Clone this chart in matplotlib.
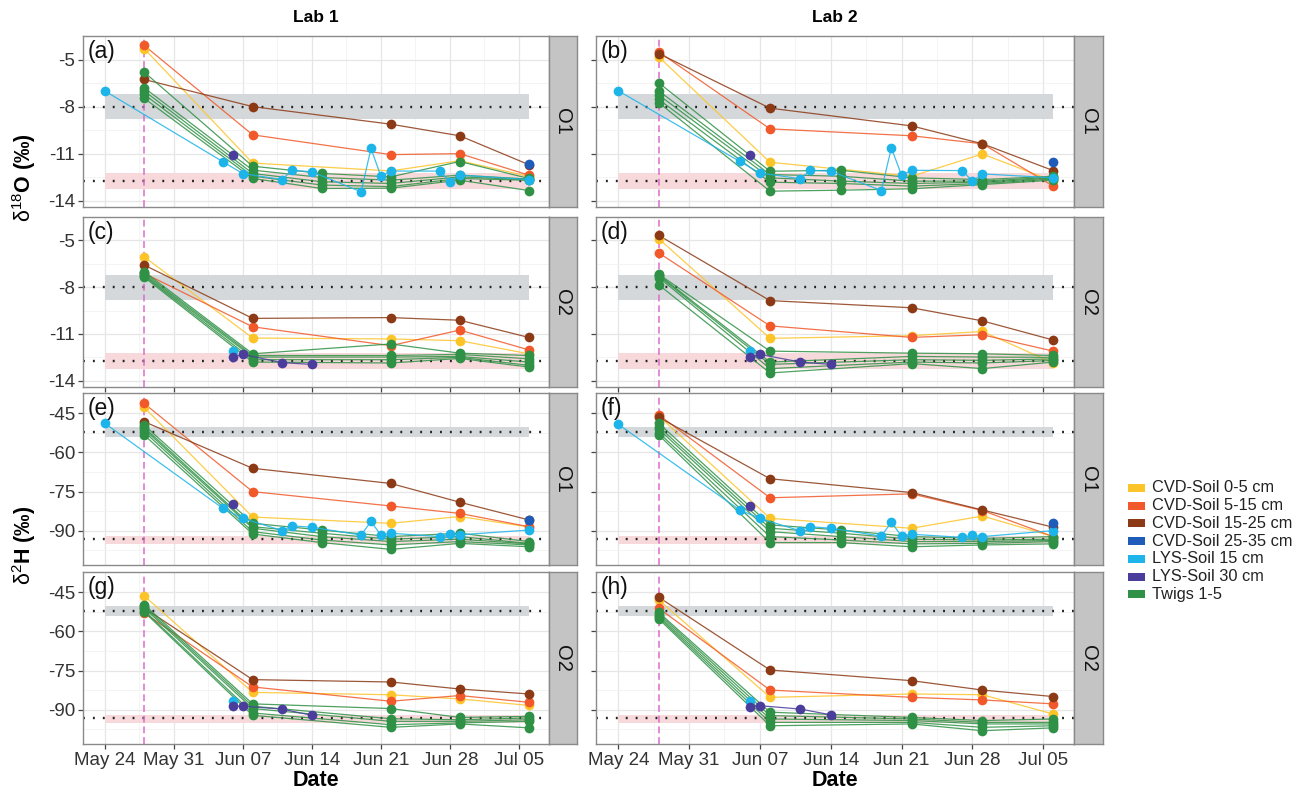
import matplotlib
matplotlib.use("Agg")
import matplotlib.pyplot as plt
import matplotlib.dates as mdates
from matplotlib.patches import Rectangle
from datetime import datetime, timedelta

plt.rcParams['font.family'] = ['Liberation Sans', 'DejaVu Sans']
plt.rcParams['axes.unicode_minus'] = False
plt.rcParams['mathtext.fontset'] = 'custom'
plt.rcParams['mathtext.rm'] = 'Liberation Sans'
plt.rcParams['mathtext.it'] = 'Liberation Sans'
plt.rcParams['mathtext.bf'] = 'Liberation Sans:bold'


def d(m, day):
    return datetime(2021, m, day)


# ---------------- dates ----------------
D_MAIN = [d(5, 28), d(6, 8), d(6, 22), d(6, 29), d(7, 6)]
D_TWIG_O1 = [d(5, 28), d(6, 8), d(6, 15), d(6, 22), d(6, 29), d(7, 6)]
D_TWIG_O2 = [d(5, 28), d(6, 8), d(6, 22), d(6, 29), d(7, 6)]
D_LYS15_O1 = [d(5, 24), d(6, 5), d(6, 7), d(6, 11), d(6, 12), d(6, 14), d(6, 19),
              d(6, 20), d(6, 21), d(6, 22), d(6, 27), d(6, 28), d(6, 29), d(7, 6)]
D_LYS30_O1 = [d(6, 6)]
D_LYS15_O2 = [d(6, 6)]
D_LYS30_O2 = [d(6, 6), d(6, 7), d(6, 11), d(6, 14)]
D_CVD2535 = [d(7, 6)]
TRACER_DATE = d(5, 28)

series_names = ["CVD-Soil 0-5 cm", "CVD-Soil 5-15 cm", "CVD-Soil 15-25 cm",
                "CVD-Soil 25-35 cm", "LYS-Soil 15 cm", "LYS-Soil 30 cm", "Twigs 1-5"]
series_colors = ["#FDC42A", "#F1592A", "#8C3A16", "#1F5BB8", "#1DB4E9", "#4B3D9C", "#2F9145"]

# ---------------- (a) Lab 1, O1, d18O ----------------
a_cvd05 = [-4.3, -11.6, -12.1, -11.45, -12.45]
a_cvd515 = [-4.1, -9.8, -11.06, -11.0, -12.37]
a_cvd1525 = [-6.27, -8.0, -9.12, -9.86, -11.7]
a_cvd2535 = [-11.63]
a_lys15 = [-7.0, -11.52, -12.27, -12.65, -12.05, -12.16, -13.43, -10.67, -12.43,
           -12.11, -12.11, -12.79, -12.37, -12.65]
a_lys30 = [-11.06]
a_twigs = [[-5.8, -11.8, -12.26, -12.48, -11.5, -12.58],
           [-6.8, -12.05, -12.52, -12.69, -12.37, -12.62],
           [-7.0, -12.26, -12.79, -12.9, -12.48, -12.66],
           [-7.22, -12.43, -13.0, -13.1, -12.58, -12.7],
           [-7.47, -12.58, -13.22, -13.2, -12.69, -13.35]]

# ---------------- (b) Lab 2, O1, d18O ----------------
b_cvd05 = [-4.83, -11.55, -12.44, -11.02, -12.75]
b_cvd515 = [-4.51, -9.42, -9.86, -10.37, -13.07]
b_cvd1525 = [-4.62, -8.1, -9.23, -10.37, -12.08]
b_cvd2535 = [-11.55]
b_lys15 = [-6.99, -11.49, -12.23, -12.6, -12.06, -12.12, -13.35, -10.64, -12.37,
           -12.06, -12.08, -12.75, -12.29, -12.54]
b_lys30 = [-11.06]
b_twigs = [[-6.48, -12.12, -12.06, -12.54, -12.65, -12.44],
           [-7.0, -12.33, -12.44, -12.75, -12.75, -12.5],
           [-7.26, -12.54, -12.75, -12.9, -12.82, -12.56],
           [-7.54, -12.82, -12.9, -13.07, -12.9, -12.62],
           [-7.75, -13.39, -13.33, -13.24, -12.97, -12.69]]

# ---------------- (c) Lab 1, O2, d18O ----------------
c_cvd05 = [-6.05, -11.26, -11.32, -11.43, -12.27]
c_cvd515 = [-7.11, -10.54, -11.75, -10.75, -12.02]
c_cvd1525 = [-6.58, -10.0, -9.95, -10.12, -11.22]
c_lys15 = [-12.06]
c_lys30 = [-12.48, -12.31, -12.84, -12.95]
c_twigs = [[-7.0, -12.27, -11.64, -12.23, -12.38],
           [-7.11, -12.38, -12.38, -12.31, -12.59],
           [-7.21, -12.48, -12.48, -12.44, -12.8],
           [-7.28, -12.65, -12.65, -12.5, -13.01],
           [-7.36, -12.8, -12.86, -12.57, -13.12]]

# ---------------- (d) Lab 2, O2, d18O ----------------
d_cvd05 = [-4.89, -11.28, -11.11, -10.84, -12.86]
d_cvd515 = [-5.8, -10.48, -11.22, -11.05, -12.1]
d_cvd1525 = [-4.68, -8.86, -9.32, -10.16, -11.39]
d_lys15 = [-12.06]
d_lys30 = [-12.48, -12.31, -12.8, -12.95]
d_twigs = [[-7.17, -12.1, -12.23, -12.27, -12.38],
           [-7.21, -12.8, -12.44, -12.48, -12.5],
           [-7.28, -12.95, -12.65, -12.69, -12.6],
           [-7.38, -13.22, -12.8, -12.86, -12.7],
           [-7.85, -13.5, -12.9, -13.22, -12.8]]

# ---------------- (e) Lab 1, O1, d2H ----------------
e_cvd05 = [-42.7, -84.8, -87.2, -84.6, -88.6]
e_cvd515 = [-41.2, -75.05, -80.55, -83.4, -88.5]
e_cvd1525 = [-48.2, -66.1, -71.9, -79.1, -85.9]
e_cvd2535 = [-85.9]
e_lys15 = [-48.8, -81.5, -85.3, -90.0, -88.2, -88.7, -91.7, -86.5, -91.7, -91.0,
           -92.3, -91.4, -91.6, -89.8]
e_lys30 = [-79.8]
e_twigs = [[-49.5, -87.2, -89.8, -92.3, -91.0, -94.2],
           [-50.4, -88.5, -91.0, -93.3, -92.3, -94.9],
           [-51.1, -89.1, -92.3, -94.2, -93.3, -95.1],
           [-52.0, -90.4, -93.6, -95.5, -94.2, -95.5],
           [-53.3, -91.3, -94.6, -97.2, -94.9, -96.2]]

# ---------------- (f) Lab 2, O1, d2H ----------------
f_cvd05 = [-46.0, -85.3, -89.1, -84.4, -92.3]
f_cvd515 = [-45.6, -77.4, -75.9, -82.3, -92.3]
f_cvd1525 = [-46.5, -70.1, -75.4, -82.1, -88.7]
f_cvd2535 = [-87.2]
f_lys15 = [-49.2, -82.1, -85.3, -90.1, -88.5, -89.1, -92.1, -86.8, -92.1, -91.4,
           -92.6, -91.8, -92.3, -90.0]
f_lys30 = [-80.4]
f_twigs = [[-48.8, -87.8, -89.8, -92.3, -93.0, -92.3],
           [-50.1, -89.1, -91.0, -93.3, -93.6, -93.3],
           [-51.1, -90.4, -92.3, -94.2, -94.2, -93.8],
           [-52.4, -92.3, -93.6, -95.1, -94.9, -94.2],
           [-53.3, -94.6, -94.6, -96.2, -95.5, -95.1]]

# ---------------- (g) Lab 1, O2, d2H ----------------
g_cvd05 = [-46.3, -83.4, -84.3, -85.9, -88.4]
g_cvd515 = [-52.9, -81.3, -86.8, -84.6, -87.2]
g_cvd1525 = [-51.0, -78.5, -79.4, -82.1, -84.0]
g_lys15 = [-86.8]
g_lys30 = [-88.7, -88.7, -89.8, -92.2]
g_twigs = [[-49.7, -87.8, -89.6, -93.0, -92.6],
           [-50.4, -88.7, -93.5, -93.9, -93.2],
           [-51.0, -89.6, -94.5, -94.5, -93.9],
           [-52.0, -91.3, -95.8, -95.1, -94.5],
           [-52.5, -92.2, -96.8, -95.5, -97.0]]

# ---------------- (h) Lab 2, O2, d2H ----------------
h_cvd05 = [-47.9, -85.3, -84.0, -84.3, -91.7]
h_cvd515 = [-51.1, -82.5, -85.3, -86.3, -87.8]
h_cvd1525 = [-46.9, -74.8, -78.9, -82.5, -85.0]
h_lys15 = [-86.8]
h_lys30 = [-88.9, -88.5, -89.8, -92.0]
h_twigs = [[-52.7, -91.0, -93.0, -94.2, -93.6],
           [-53.3, -92.3, -93.6, -94.9, -94.9],
           [-54.0, -93.6, -94.2, -95.5, -95.5],
           [-54.6, -94.9, -94.9, -96.8, -96.2],
           [-55.2, -96.2, -95.5, -98.1, -97.0]]

# reference bands (low, high, mean)
O_GREY_BAND = (-8.8, -7.2, -8.0)
O_PINK_BAND = (-13.25, -12.25, -12.75)
H_GREY_BAND = (-54.0, -50.4, -52.2)
H_PINK_BAND = (-95.1, -91.9, -93.4)

O_TICKS = [-5, -8, -11, -14]
H_TICKS = [-45, -60, -75, -90]
X_TICKS = [d(5, 24) + timedelta(days=7 * k) for k in range(7)]

# ---------------- layout ----------------
W, H = 1307, 795
fig = plt.figure(figsize=(W / 100, H / 100), dpi=100)
fig.patch.set_facecolor("white")

COLS = [(83, 549, 577), (596, 1074, 1103)]
ROWS = [(36, 207), (217, 387), (393, 565), (572, 744)]


def px_rect(x0, y0, x1, y1):
    return [x0 / W, 1 - y1 / H, (x1 - x0) / W, (y1 - y0) / H]


panels = [
    ("a", 0, 0, "O1", "O", D_LYS15_O1, D_LYS30_O1, D_TWIG_O1,
     a_cvd05, a_cvd515, a_cvd1525, a_cvd2535, a_lys15, a_lys30, a_twigs),
    ("b", 0, 1, "O1", "O", D_LYS15_O1, D_LYS30_O1, D_TWIG_O1,
     b_cvd05, b_cvd515, b_cvd1525, b_cvd2535, b_lys15, b_lys30, b_twigs),
    ("c", 1, 0, "O2", "O", D_LYS15_O2, D_LYS30_O2, D_TWIG_O2,
     c_cvd05, c_cvd515, c_cvd1525, None, c_lys15, c_lys30, c_twigs),
    ("d", 1, 1, "O2", "O", D_LYS15_O2, D_LYS30_O2, D_TWIG_O2,
     d_cvd05, d_cvd515, d_cvd1525, None, d_lys15, d_lys30, d_twigs),
    ("e", 2, 0, "O1", "H", D_LYS15_O1, D_LYS30_O1, D_TWIG_O1,
     e_cvd05, e_cvd515, e_cvd1525, e_cvd2535, e_lys15, e_lys30, e_twigs),
    ("f", 2, 1, "O1", "H", D_LYS15_O1, D_LYS30_O1, D_TWIG_O1,
     f_cvd05, f_cvd515, f_cvd1525, f_cvd2535, f_lys15, f_lys30, f_twigs),
    ("g", 3, 0, "O2", "H", D_LYS15_O2, D_LYS30_O2, D_TWIG_O2,
     g_cvd05, g_cvd515, g_cvd1525, None, g_lys15, g_lys30, g_twigs),
    ("h", 3, 1, "O2", "H", D_LYS15_O2, D_LYS30_O2, D_TWIG_O2,
     h_cvd05, h_cvd515, h_cvd1525, None, h_lys15, h_lys30, h_twigs),
]

xmin = mdates.date2num(d(5, 24)) - 2.2
xmax = mdates.date2num(d(7, 6)) + 2.05
major_x = [mdates.date2num(t) for t in X_TICKS]
minor_x = [v + 3.5 for v in major_x if v + 3.5 < xmax]
band_x0 = mdates.date2num(d(5, 24))
band_x1 = mdates.date2num(d(7, 6))

GRID_MAJ = "#E6E6E6"
GRID_MIN = "#F2F2F2"
BORDER = "#8A8A8A"
TXT = "#333333"


def draw_series(ax, dates, vals, color, z):
    x = mdates.date2num(dates)
    ax.plot(x, vals, "-", color=color, lw=0.9, alpha=0.85, zorder=z,
            solid_capstyle="round")
    ax.plot(x, vals, "o", color=color, ms=7.0, mew=0, zorder=z + 0.5)


for (lab, r, c, site, iso, d15, d30, dtw, s05, s515, s1525, s2535, l15, l30, tw) in panels:
    x0, x1, sx1 = COLS[c]
    y0, y1 = ROWS[r]
    ax = fig.add_axes(px_rect(x0, y0, x1, y1))
    ax.set_xlim(xmin, xmax)
    if iso == "O":
        ax.set_ylim(-14.4, -3.5)
        ax.set_yticks(O_TICKS)
        ax.set_yticks([-6.5, -9.5, -12.5], minor=True)
        grey_b, pink_b = O_GREY_BAND, O_PINK_BAND
    else:
        ax.set_ylim(-103.2, -37.2)
        ax.set_yticks(H_TICKS)
        ax.set_yticks([-52.5, -67.5, -82.5, -97.5], minor=True)
        grey_b, pink_b = H_GREY_BAND, H_PINK_BAND
    ax.set_xticks(major_x)
    ax.set_xticks(minor_x, minor=True)
    ax.grid(True, which="major", color=GRID_MAJ, lw=0.9, zorder=0)
    ax.grid(True, which="minor", color=GRID_MIN, lw=0.6, zorder=0)
    ax.set_axisbelow(True)
    for sp in ax.spines.values():
        sp.set_color(BORDER)
        sp.set_linewidth(1.0)
    ax.tick_params(which="minor", length=0)
    ax.tick_params(which="major", length=3.5, width=0.9, color="#444444",
                   labelsize=13.5, labelcolor=TXT, pad=2)
    if c == 1:
        ax.set_yticklabels([])
    if r == 3:
        ax.xaxis.set_major_formatter(mdates.DateFormatter("%b %d"))
    else:
        ax.set_xticklabels([])
        if r != 1:
            ax.tick_params(axis="x", which="major", length=0)

    # bands and reference lines
    ax.fill_between([band_x0, band_x1], grey_b[0], grey_b[1], color="#D5D8DB",
                    lw=0, zorder=1)
    ax.fill_between([band_x0, band_x1], pink_b[0], pink_b[1], color="#F7D9DC",
                    lw=0, zorder=1)
    for b in (grey_b, pink_b):
        ax.axhline(b[2], color="#222222", lw=1.7, ls=(0, (0.8, 3.4)), zorder=2)
    ax.axvline(mdates.date2num(TRACER_DATE), color="#DE6BCB", lw=1.1,
               ls=(0, (4.5, 2.5)), zorder=2)

    # series
    draw_series(ax, D_MAIN, s05, series_colors[0], 3)
    draw_series(ax, D_MAIN, s515, series_colors[1], 3.1)
    draw_series(ax, D_MAIN, s1525, series_colors[2], 3.2)
    for t in tw:
        draw_series(ax, dtw, t, series_colors[6], 4)
    draw_series(ax, d15, l15, series_colors[4], 5)
    draw_series(ax, d30, l30, series_colors[5], 5.2)
    if s2535 is not None:
        draw_series(ax, D_CVD2535, s2535, series_colors[3], 5.4)

    ax.text(0.009, 0.975, "(%s)" % lab, transform=ax.transAxes, ha="left", va="top",
            fontsize=16.5, color="#111111", zorder=10)

    # facet strip
    sax = fig.add_axes(px_rect(x1, y0, sx1, y1))
    sax.set_xticks([])
    sax.set_yticks([])
    sax.set_facecolor("#C4C4C4")
    for sp in sax.spines.values():
        sp.set_color(BORDER)
        sp.set_linewidth(1.0)
    sax.text(0.5, 0.5, site, rotation=-90, ha="center", va="center",
             fontsize=14.5, color="#111111", transform=sax.transAxes)

# column titles
fig.text(((83 + 549) / 2) / W, 1 - 18 / H, "Lab 1", ha="center", va="center",
         fontsize=12.5, fontweight="bold")
fig.text(((596 + 1074) / 2) / W, 1 - 18 / H, "Lab 2", ha="center", va="center",
         fontsize=12.5, fontweight="bold")

# x axis titles
for (x0, x1, _) in COLS:
    fig.text(((x0 + x1) / 2) / W, 1 - 781 / H, "Date", ha="center", va="center",
             fontsize=15.5, fontweight="bold")

# y axis titles
fig.text(24 / W, 1 - 178 / H, r"$\mathrm{\delta}^{18}$O (‰)", rotation=90,
         ha="center", va="center", fontsize=15.5, fontweight="bold")
fig.text(24 / W, 1 - 545 / H, r"$\mathrm{\delta}^{2}$H (‰)", rotation=90,
         ha="center", va="center", fontsize=15.5, fontweight="bold")

# legend
leg_y0 = 488
leg_dy = 17.7
for i, (name, col) in enumerate(zip(series_names, series_colors)):
    yc = leg_y0 + i * leg_dy
    fig.patches.append(Rectangle(((1128) / W, 1 - (yc + 4) / H), 17 / W, 8 / H,
                                 transform=fig.transFigure, color=col, lw=0))
    fig.text(1152 / W, 1 - yc / H, name, ha="left", va="center", fontsize=11.8,
             color="#222222")

fig.savefig("out.png", dpi=100, facecolor="white")
